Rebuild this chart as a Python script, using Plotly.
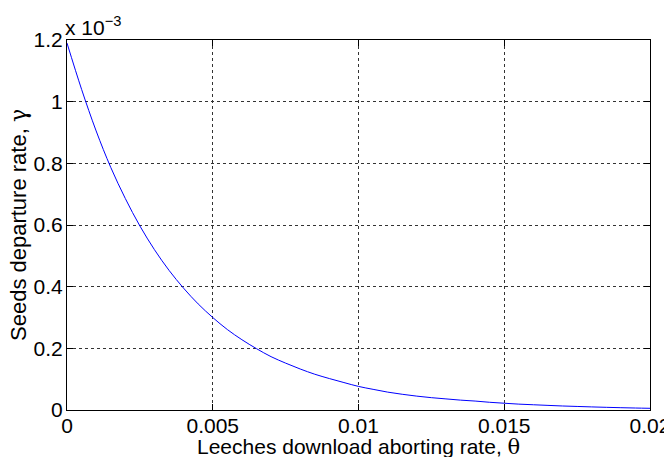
import plotly.graph_objects as go

# Leeches download aborting rate (theta)
theta = [0.0, 0.0005, 0.001, 0.0015, 0.002, 0.0025, 0.003, 0.0035, 0.004, 0.0045,
         0.005, 0.0055, 0.006, 0.0065, 0.007, 0.0075, 0.008, 0.0085, 0.009, 0.0095,
         0.010, 0.0105, 0.011, 0.0115, 0.012, 0.0125, 0.013, 0.0135, 0.014, 0.0145,
         0.015, 0.0155, 0.016, 0.0165, 0.017, 0.0175, 0.018, 0.0185, 0.019, 0.0195, 0.020]
# Seeds departure rate gamma, in units of 1e-3
gamma = [1.19, 1.04, 0.905, 0.787, 0.686, 0.597, 0.520, 0.453, 0.395, 0.344,
         0.300, 0.261, 0.228, 0.199, 0.173, 0.152, 0.133, 0.116, 0.102, 0.089,
         0.0765, 0.067, 0.058, 0.051, 0.045, 0.040, 0.036, 0.032, 0.029, 0.025,
         0.022, 0.019, 0.017, 0.015, 0.013, 0.0115, 0.010, 0.0087, 0.0075, 0.0064, 0.0055]

x_ticks = [0, 0.005, 0.01, 0.015, 0.02]
x_ticklabels = ["0", "0.005", "0.01", "0.015", "0.02"]
y_ticks = [0, 0.2, 0.4, 0.6, 0.8, 1.0, 1.2]
y_ticklabels = ["0", "0.2", "0.4", "0.6", "0.8", "1", "1.2"]

x_title = "Leeches download aborting rate, <span style='font-family:DejaVu Serif'>θ</span>"
y_title = "Seeds departure rate, <span style='font-family:DejaVu Serif'>γ</span>"
exp_label = "x 10<sup>−3</sup>"

FONT = "Liberation Sans, Arial, Helvetica, sans-serif"
FS = 21

fig = go.Figure()
fig.add_trace(go.Scatter(x=theta, y=gamma, mode="lines",
                         line=dict(color="#0000ff", width=1), showlegend=False,
                         line_shape="spline"))

axis_common = dict(
    showline=True, linecolor="black", linewidth=1, mirror="ticks",
    ticks="inside", ticklen=6, tickcolor="black", tickwidth=1,
    showgrid=True, gridcolor="#333333", gridwidth=1, griddash="dot",
    zeroline=False, automargin=False,
    tickfont=dict(family=FONT, size=FS, color="black"),
)

fig.update_xaxes(range=[0, 0.02], tickvals=x_ticks, ticktext=x_ticklabels,
                 ticklabelstandoff=-3, **axis_common)
fig.update_yaxes(range=[0, 1.2], tickvals=y_ticks, ticktext=y_ticklabels,
                 ticklabelstandoff=-1, **axis_common)

fig.add_annotation(xref="paper", yref="paper", x=0.5, y=0, xanchor="center",
                   yanchor="middle", yshift=-37, showarrow=False, text=x_title,
                   font=dict(family=FONT, size=FS, color="black"))
fig.add_annotation(xref="paper", yref="paper", x=0, y=0.5, xanchor="center",
                   yanchor="middle", xshift=-49, textangle=-90, showarrow=False,
                   text=y_title, font=dict(family=FONT, size=FS + 1, color="black"))
fig.add_annotation(xref="paper", yref="paper", x=0, y=1, xanchor="left",
                   yanchor="bottom", showarrow=False, xshift=-4, yshift=-1,
                   text=exp_label,
                   font=dict(family=FONT, size=FS, color="black"))

# page body has an 8px default margin, so the figure is sized/offset to compensate
fig.update_layout(
    width=664, height=449,
    margin=dict(l=59, r=22, t=32, b=47),
    paper_bgcolor="white", plot_bgcolor="white",
    font=dict(family=FONT, color="black"),
)

fig.write_html("out.html")
